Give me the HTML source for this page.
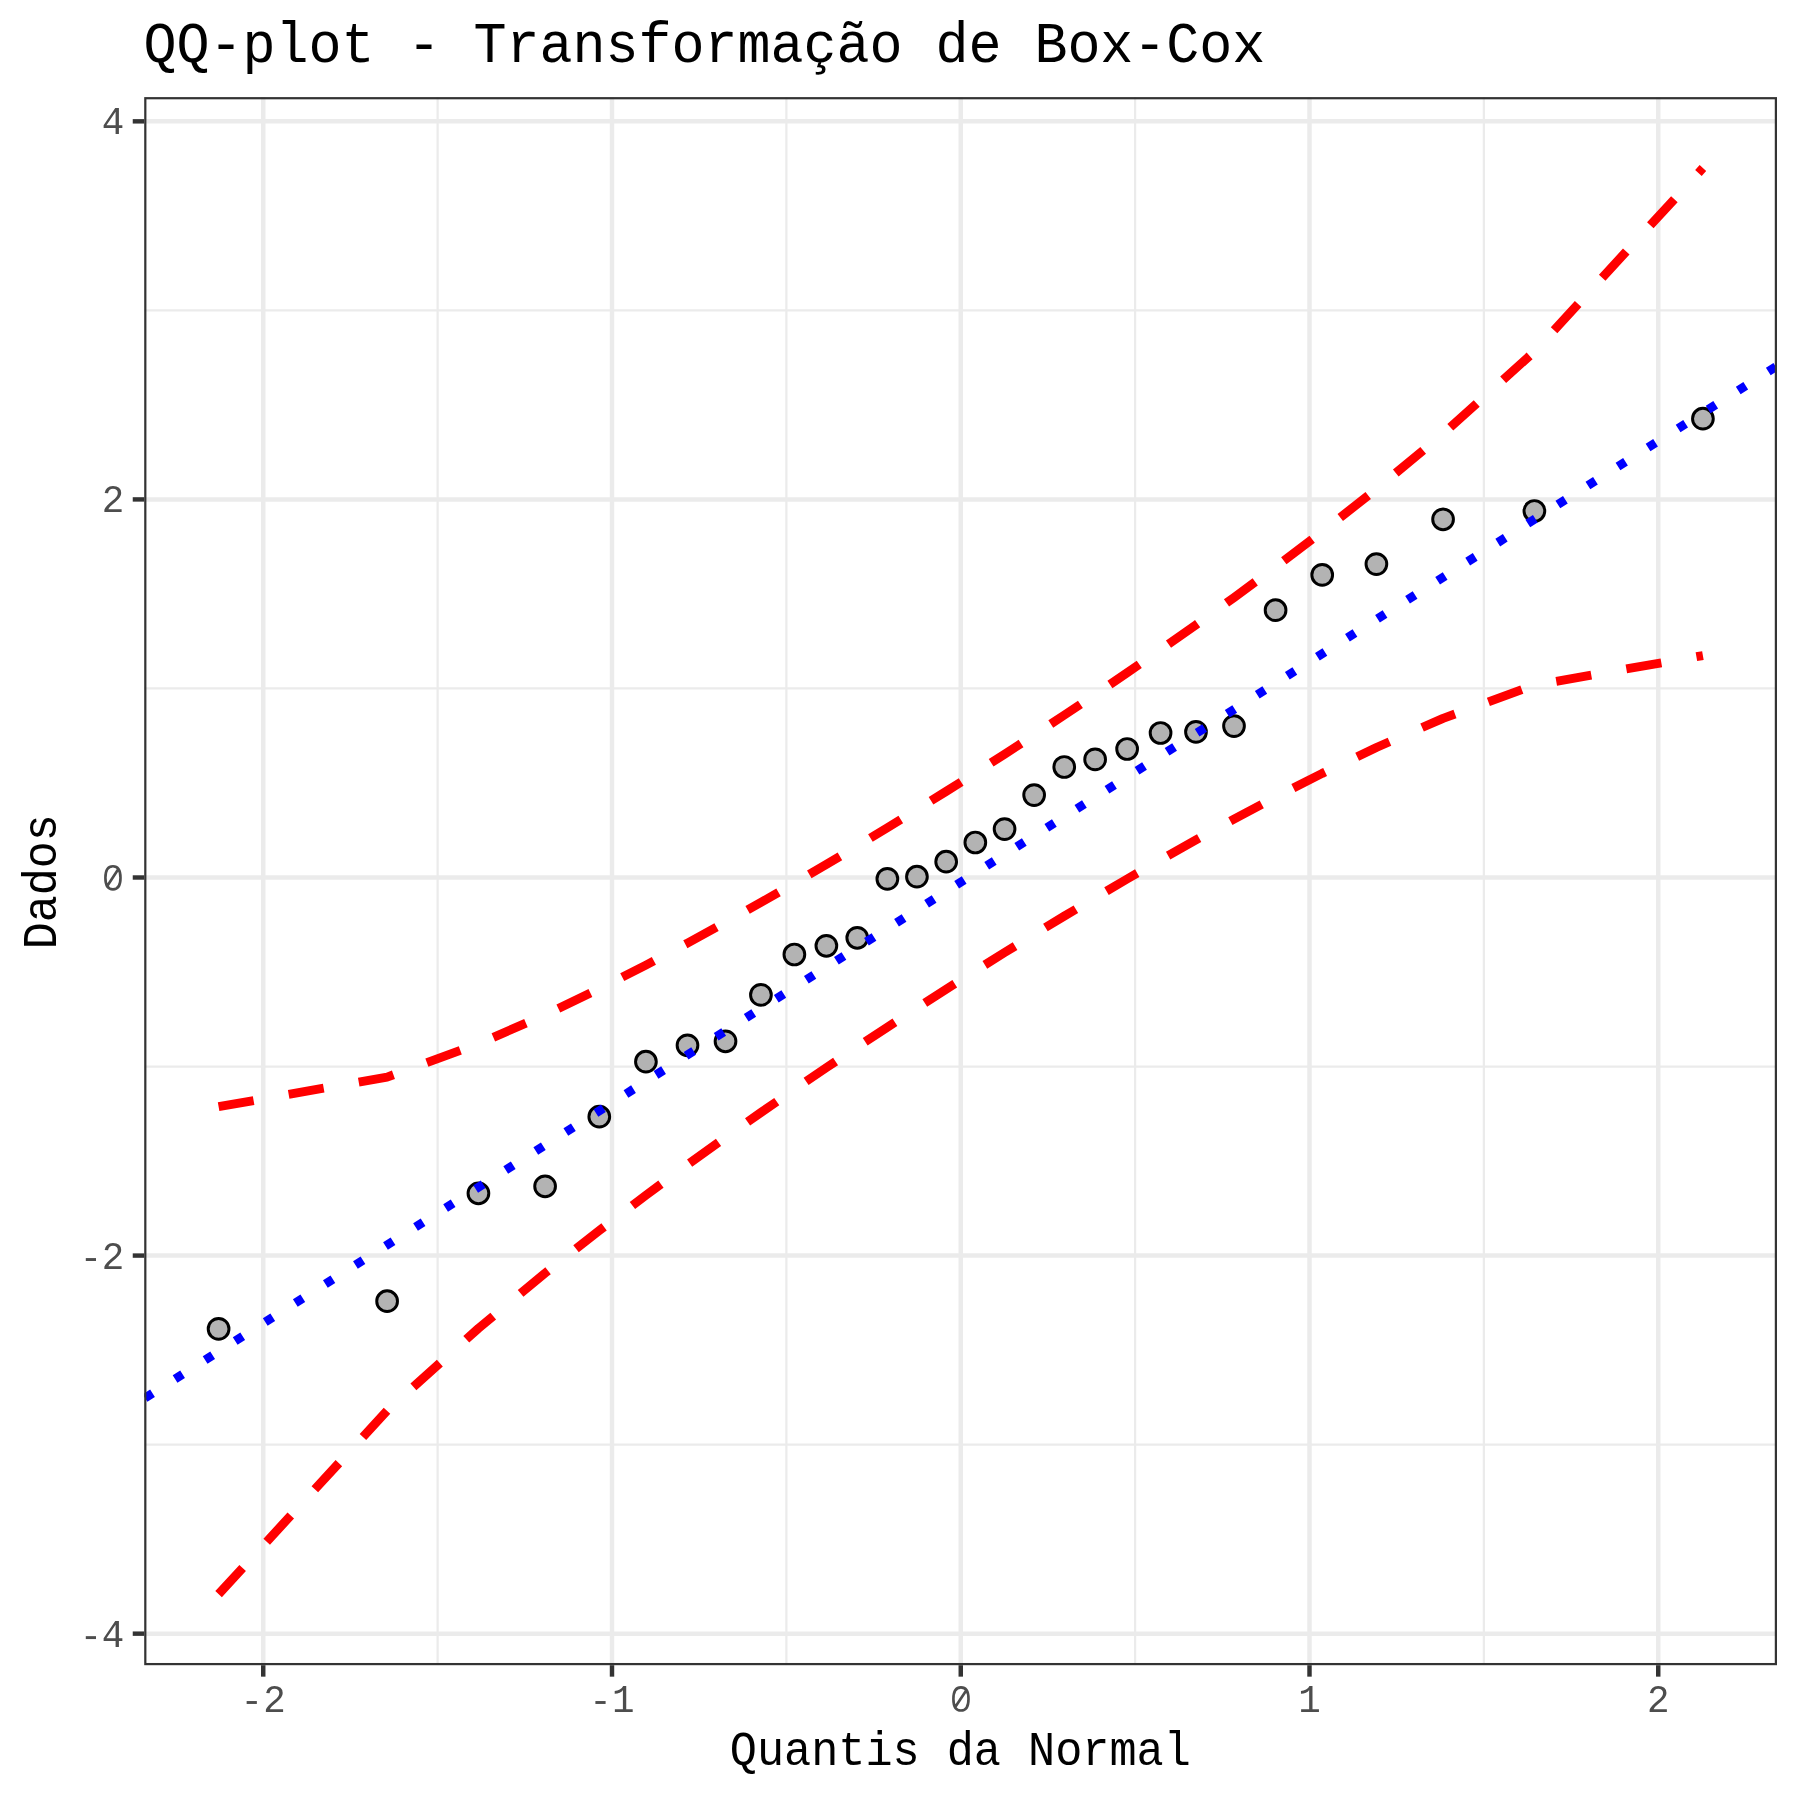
<!DOCTYPE html><html><head><meta charset="utf-8"><style>html,body{margin:0;padding:0;background:#fff;width:1800px;height:1800px;overflow:hidden}svg{display:block;will-change:transform}text{font-family:"Liberation Mono",monospace}</style></head><body>
<svg width="1800" height="1800" viewBox="0 0 1800 1800">
<rect x="0" y="0" width="1800" height="1800" fill="#fff"/>
<defs><clipPath id="pc"><rect x="144.2" y="97.1" width="1632.80" height="1568.10"/></clipPath></defs>
<g clip-path="url(#pc)">
<line x1="437.62" y1="97.1" x2="437.62" y2="1665.2" stroke="#EBEBEB" stroke-width="2.223"/>
<line x1="786.38" y1="97.1" x2="786.38" y2="1665.2" stroke="#EBEBEB" stroke-width="2.223"/>
<line x1="1135.12" y1="97.1" x2="1135.12" y2="1665.2" stroke="#EBEBEB" stroke-width="2.223"/>
<line x1="1483.88" y1="97.1" x2="1483.88" y2="1665.2" stroke="#EBEBEB" stroke-width="2.223"/>
<line x1="144.2" y1="1444.62" x2="1777.0" y2="1444.62" stroke="#EBEBEB" stroke-width="2.223"/>
<line x1="144.2" y1="1066.54" x2="1777.0" y2="1066.54" stroke="#EBEBEB" stroke-width="2.223"/>
<line x1="144.2" y1="688.46" x2="1777.0" y2="688.46" stroke="#EBEBEB" stroke-width="2.223"/>
<line x1="144.2" y1="310.38" x2="1777.0" y2="310.38" stroke="#EBEBEB" stroke-width="2.223"/>
<line x1="263.25" y1="97.1" x2="263.25" y2="1665.2" stroke="#EBEBEB" stroke-width="4.446"/>
<line x1="612.00" y1="97.1" x2="612.00" y2="1665.2" stroke="#EBEBEB" stroke-width="4.446"/>
<line x1="960.75" y1="97.1" x2="960.75" y2="1665.2" stroke="#EBEBEB" stroke-width="4.446"/>
<line x1="1309.50" y1="97.1" x2="1309.50" y2="1665.2" stroke="#EBEBEB" stroke-width="4.446"/>
<line x1="1658.25" y1="97.1" x2="1658.25" y2="1665.2" stroke="#EBEBEB" stroke-width="4.446"/>
<line x1="144.2" y1="1633.66" x2="1777.0" y2="1633.66" stroke="#EBEBEB" stroke-width="4.446"/>
<line x1="144.2" y1="1255.58" x2="1777.0" y2="1255.58" stroke="#EBEBEB" stroke-width="4.446"/>
<line x1="144.2" y1="877.50" x2="1777.0" y2="877.50" stroke="#EBEBEB" stroke-width="4.446"/>
<line x1="144.2" y1="499.42" x2="1777.0" y2="499.42" stroke="#EBEBEB" stroke-width="4.446"/>
<line x1="144.2" y1="121.34" x2="1777.0" y2="121.34" stroke="#EBEBEB" stroke-width="4.446"/>
<circle cx="218.59" cy="1328.90" r="10.37" fill="#B3B3B3" stroke="#000" stroke-width="2.95"/>
<circle cx="387.11" cy="1301.20" r="10.37" fill="#B3B3B3" stroke="#000" stroke-width="2.95"/>
<circle cx="478.43" cy="1193.30" r="10.37" fill="#B3B3B3" stroke="#000" stroke-width="2.95"/>
<circle cx="545.10" cy="1186.30" r="10.37" fill="#B3B3B3" stroke="#000" stroke-width="2.95"/>
<circle cx="599.29" cy="1116.70" r="10.37" fill="#B3B3B3" stroke="#000" stroke-width="2.95"/>
<circle cx="645.92" cy="1061.70" r="10.37" fill="#B3B3B3" stroke="#000" stroke-width="2.95"/>
<circle cx="687.50" cy="1045.30" r="10.37" fill="#B3B3B3" stroke="#000" stroke-width="2.95"/>
<circle cx="725.52" cy="1041.30" r="10.37" fill="#B3B3B3" stroke="#000" stroke-width="2.95"/>
<circle cx="760.93" cy="994.90" r="10.37" fill="#B3B3B3" stroke="#000" stroke-width="2.95"/>
<circle cx="794.38" cy="954.50" r="10.37" fill="#B3B3B3" stroke="#000" stroke-width="2.95"/>
<circle cx="826.37" cy="945.80" r="10.37" fill="#B3B3B3" stroke="#000" stroke-width="2.95"/>
<circle cx="857.26" cy="937.80" r="10.37" fill="#B3B3B3" stroke="#000" stroke-width="2.95"/>
<circle cx="887.36" cy="878.90" r="10.37" fill="#B3B3B3" stroke="#000" stroke-width="2.95"/>
<circle cx="916.93" cy="876.70" r="10.37" fill="#B3B3B3" stroke="#000" stroke-width="2.95"/>
<circle cx="946.18" cy="861.70" r="10.37" fill="#B3B3B3" stroke="#000" stroke-width="2.95"/>
<circle cx="975.32" cy="842.50" r="10.37" fill="#B3B3B3" stroke="#000" stroke-width="2.95"/>
<circle cx="1004.57" cy="829.10" r="10.37" fill="#B3B3B3" stroke="#000" stroke-width="2.95"/>
<circle cx="1034.14" cy="795.10" r="10.37" fill="#B3B3B3" stroke="#000" stroke-width="2.95"/>
<circle cx="1064.24" cy="767.00" r="10.37" fill="#B3B3B3" stroke="#000" stroke-width="2.95"/>
<circle cx="1095.13" cy="759.40" r="10.37" fill="#B3B3B3" stroke="#000" stroke-width="2.95"/>
<circle cx="1127.12" cy="749.00" r="10.37" fill="#B3B3B3" stroke="#000" stroke-width="2.95"/>
<circle cx="1160.57" cy="733.00" r="10.37" fill="#B3B3B3" stroke="#000" stroke-width="2.95"/>
<circle cx="1195.98" cy="731.90" r="10.37" fill="#B3B3B3" stroke="#000" stroke-width="2.95"/>
<circle cx="1234.00" cy="726.10" r="10.37" fill="#B3B3B3" stroke="#000" stroke-width="2.95"/>
<circle cx="1275.58" cy="610.20" r="10.37" fill="#B3B3B3" stroke="#000" stroke-width="2.95"/>
<circle cx="1322.21" cy="574.90" r="10.37" fill="#B3B3B3" stroke="#000" stroke-width="2.95"/>
<circle cx="1376.40" cy="564.10" r="10.37" fill="#B3B3B3" stroke="#000" stroke-width="2.95"/>
<circle cx="1443.07" cy="519.30" r="10.37" fill="#B3B3B3" stroke="#000" stroke-width="2.95"/>
<circle cx="1534.39" cy="511.00" r="10.37" fill="#B3B3B3" stroke="#000" stroke-width="2.95"/>
<circle cx="1702.91" cy="418.70" r="10.37" fill="#B3B3B3" stroke="#000" stroke-width="2.95"/>
<path d="M218.59,1106.68 L387.11,1077.07 L478.43,1043.82 L545.10,1014.74 L599.29,988.81 L645.92,965.13 L687.50,943.11 L725.52,922.31 L760.93,902.41 L794.38,883.19 L826.37,864.45 L857.26,846.03 L887.36,827.79 L916.93,809.61 L946.18,791.37 L975.32,772.94 L1004.57,754.19 L1034.14,734.98 L1064.24,715.15 L1095.13,694.49 L1127.12,672.78 L1160.57,649.69 L1195.98,624.81 L1234.00,597.53 L1275.58,566.97 L1322.21,531.67 L1376.40,489.07 L1443.07,433.83 L1534.39,351.58 L1702.91,168.06" fill="none" stroke="#FF0000" stroke-width="8.8915" stroke-dasharray="35.57 35.57" stroke-linejoin="round" stroke-linecap="butt"/>
<path d="M218.59,1594.12 L387.11,1410.60 L478.43,1328.35 L545.10,1273.12 L599.29,1230.52 L645.92,1195.22 L687.50,1164.65 L725.52,1137.37 L760.93,1112.49 L794.38,1089.40 L826.37,1067.69 L857.26,1047.04 L887.36,1027.20 L916.93,1007.99 L946.18,989.25 L975.32,970.81 L1004.57,952.57 L1034.14,934.39 L1064.24,916.16 L1095.13,897.74 L1127.12,878.99 L1160.57,859.77 L1195.98,839.88 L1234.00,819.07 L1275.58,797.05 L1322.21,773.38 L1376.40,747.45 L1443.07,718.36 L1534.39,685.11 L1702.91,655.51" fill="none" stroke="#FF0000" stroke-width="8.8915" stroke-dasharray="35.57 35.57" stroke-linejoin="round" stroke-linecap="butt"/>
<line x1="144.2" y1="1398.54" x2="1777.0" y2="366.03" stroke="#0000FF" stroke-width="8.8915" stroke-dasharray="8.892 26.675" stroke-dashoffset="-0.95" stroke-linecap="butt"/>
</g>
<rect x="145.3115" y="98.2115" width="1630.58" height="1565.88" fill="none" stroke="#333333" stroke-width="2.223"/>
<line x1="263.25" y1="1665.2" x2="263.25" y2="1676.66" stroke="#333333" stroke-width="4.446"/>
<line x1="612.00" y1="1665.2" x2="612.00" y2="1676.66" stroke="#333333" stroke-width="4.446"/>
<line x1="960.75" y1="1665.2" x2="960.75" y2="1676.66" stroke="#333333" stroke-width="4.446"/>
<line x1="1309.50" y1="1665.2" x2="1309.50" y2="1676.66" stroke="#333333" stroke-width="4.446"/>
<line x1="1658.25" y1="1665.2" x2="1658.25" y2="1676.66" stroke="#333333" stroke-width="4.446"/>
<line x1="132.74" y1="1633.66" x2="144.2" y2="1633.66" stroke="#333333" stroke-width="4.446"/>
<line x1="132.74" y1="1255.58" x2="144.2" y2="1255.58" stroke="#333333" stroke-width="4.446"/>
<line x1="132.74" y1="877.50" x2="144.2" y2="877.50" stroke="#333333" stroke-width="4.446"/>
<line x1="132.74" y1="499.42" x2="144.2" y2="499.42" stroke="#333333" stroke-width="4.446"/>
<line x1="132.74" y1="121.34" x2="144.2" y2="121.34" stroke="#333333" stroke-width="4.446"/>
<rect x="246.65" y="1701.05" width="10.2" height="2.9" fill="#4D4D4D"/>
<text transform="translate(263.25,1711.7) scale(1,1.05)" font-size="37.5" fill="#4D4D4D" text-anchor="start">2</text>
<rect x="595.40" y="1701.05" width="10.2" height="2.9" fill="#4D4D4D"/>
<text transform="translate(612.00,1711.7) scale(1,1.05)" font-size="37.5" fill="#4D4D4D" text-anchor="start">1</text>
<path d="M960.95,1687.30 C965.93,1687.30 968.50,1691.24 968.50,1698.90 C968.50,1706.56 965.93,1710.50 960.95,1710.50 C955.97,1710.50 953.40,1706.56 953.40,1698.90 C953.40,1691.24 955.97,1687.30 960.95,1687.30 Z M955.60,1706.55 L966.20,1690.45" fill="none" stroke="#4D4D4D" stroke-width="2.65"/>
<text transform="translate(1309.50,1711.7) scale(1,1.05)" font-size="37.5" fill="#4D4D4D" text-anchor="middle">1</text>
<text transform="translate(1658.25,1711.7) scale(1,1.05)" font-size="37.5" fill="#4D4D4D" text-anchor="middle">2</text>
<rect x="85.8" y="1636.16" width="10.2" height="2.9" fill="#4D4D4D"/>
<text transform="translate(124.3,1646.66) scale(1,1.05)" font-size="37.5" fill="#4D4D4D" text-anchor="end">4</text>
<rect x="85.8" y="1258.08" width="10.2" height="2.9" fill="#4D4D4D"/>
<text transform="translate(124.3,1268.58) scale(1,1.05)" font-size="37.5" fill="#4D4D4D" text-anchor="end">2</text>
<path d="M112.95,866.20 C117.93,866.20 120.50,870.14 120.50,877.80 C120.50,885.46 117.93,889.40 112.95,889.40 C107.97,889.40 105.40,885.46 105.40,877.80 C105.40,870.14 107.97,866.20 112.95,866.20 Z M107.60,885.45 L118.20,869.35" fill="none" stroke="#4D4D4D" stroke-width="2.65"/>
<text transform="translate(124.3,512.42) scale(1,1.05)" font-size="37.5" fill="#4D4D4D" text-anchor="end">2</text>
<text transform="translate(124.3,134.34) scale(1,1.05)" font-size="37.5" fill="#4D4D4D" text-anchor="end">4</text>
<text transform="translate(960.3,1764.8) scale(1,1.08)" font-size="45.2" fill="#000" text-anchor="middle">Quantis da Normal</text>
<text transform="translate(56,881.7) rotate(-90) scale(1,1.08)" font-size="45.0" fill="#000" text-anchor="middle">Dados</text>
<text transform="translate(143.5,61.7) scale(1,1.05)" font-size="55" fill="#000">QQ-plot - Transformação de Box-Cox</text>
</svg></body></html>
